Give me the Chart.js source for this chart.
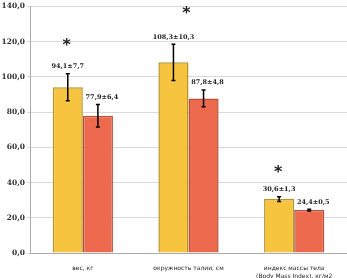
<!DOCTYPE html>
<html>
<head>
<meta charset="utf-8">
<script src="https://cdn.jsdelivr.net/npm/chart.js@4.4.0/dist/chart.umd.min.js"></script>
<style>
html,body{margin:0;padding:0;background:#fff;}
#mycanvas{display:block;}
</style>
</head>
<body>
<canvas id="mycanvas" width="347" height="278"></canvas>
<script>
var categories = [["вес, кг"], ["окружность талии, см"], ["индекс массы тела", "(Body Mass Index), кг/м2"]];
var group1 = [94.1, 108.3, 30.6];
var group1Err = [7.7, 10.3, 1.3];
var group2 = [77.9, 87.8, 24.4];
var group2Err = [6.4, 4.8, 0.5];
var yTicks = [0, 20, 40, 60, 80, 100, 120, 140];
var starAt = [120, 138, 48];

function fmt(v) {
	return v.toFixed(1).replace(".", ",");
}

// draws error bars, value labels and the asterisks
var extras = {
	id: "extras",
	afterDatasetsDraw: function(chart) {
		var ctx = chart.ctx;
		var y = chart.scales.y;
		var sets = [[group1, group1Err], [group2, group2Err]];
		ctx.save();
		for (var d = 0; d < 2; d++) {
			var meta = chart.getDatasetMeta(d);
			for (var i = 0; i < meta.data.length; i++) {
				var x = meta.data[i].x;
				var v = sets[d][0][i], e = sets[d][1][i];
				var top = y.getPixelForValue(v + e);
				var bot = y.getPixelForValue(v - e);
				ctx.strokeStyle = "#000";
				ctx.lineWidth = 1.5;
				ctx.beginPath();
				ctx.moveTo(x, top); ctx.lineTo(x, bot);
				ctx.moveTo(x - 2, top); ctx.lineTo(x + 2, top);
				ctx.moveTo(x - 2, bot); ctx.lineTo(x + 2, bot);
				ctx.stroke();
				ctx.fillStyle = "#222";
				ctx.font = "bold 6.5px 'DejaVu Serif'";
				ctx.textAlign = "center";
				ctx.textBaseline = "bottom";
				ctx.fillText(fmt(v) + "±" + fmt(e), x + (d == 1 ? 4 : 0), top - 4);
			}
		}
		var m0 = chart.getDatasetMeta(0);
		ctx.font = "bold 16px 'DejaVu Sans'";
		ctx.textBaseline = "middle";
		for (var k = 0; k < starAt.length; k++) {
			var sx = m0.data[k].x - 1 + (k == 1 ? 14 : 0);
			ctx.fillText("*", sx, y.getPixelForValue(starAt[k]) + 4);
		}
		ctx.restore();
	}
};

var chartdatanew = {
	labels: categories,
	datasets: [
		{
			label: "1",
			data: group1,
			backgroundColor: "#F6C43F",
			borderColor: "#B8952C",
			borderWidth: 1.5
		},
		{
			label: "2",
			data: group2,
			backgroundColor: "#EE6A4E",
			borderColor: "#B4533C",
			borderWidth: 1.5
		}
	]
};

var ctx = document.getElementById("mycanvas");

var barGraph = new Chart(ctx, {
	type: "bar",
	data: chartdatanew,
	plugins: [extras],
	options: {
		responsive: false,
		animation: false,
		layout: { padding: { top: 2, right: 0, left: 0, bottom: 0 } },
		plugins: { legend: { display: false }, tooltip: { enabled: false } },
		datasets: { bar: { categoryPercentage: 0.57, barPercentage: 1 } },
		scales: {
			x: {
				grid: { display: false, drawTicks: true },
				border: { color: "#aaa" },
				ticks: {
					color: "#222",
					font: { family: "'DejaVu Sans'", size: 6, lineHeight: 1.4 },
					padding: 3,
					maxRotation: 0
				},
				afterFit: function(s) { s.height = 25; }
			},
			y: {
				min: 0,
				max: 140,
				afterBuildTicks: function(s) {
					s.ticks = yTicks.map(function(v) { return { value: v }; });
				},
				grid: { color: "#d9d9d9", tickLength: 3 },
				border: { color: "#aaa" },
				ticks: {
					color: "#333",
					font: { family: "'DejaVu Serif'", size: 7.5, weight: "bold" },
					padding: 2,
					callback: function(v) { return fmt(v); }
				},
				afterFit: function(s) { s.width = 30; }
			}
		}
	}
});
</script>
</body>
</html>
